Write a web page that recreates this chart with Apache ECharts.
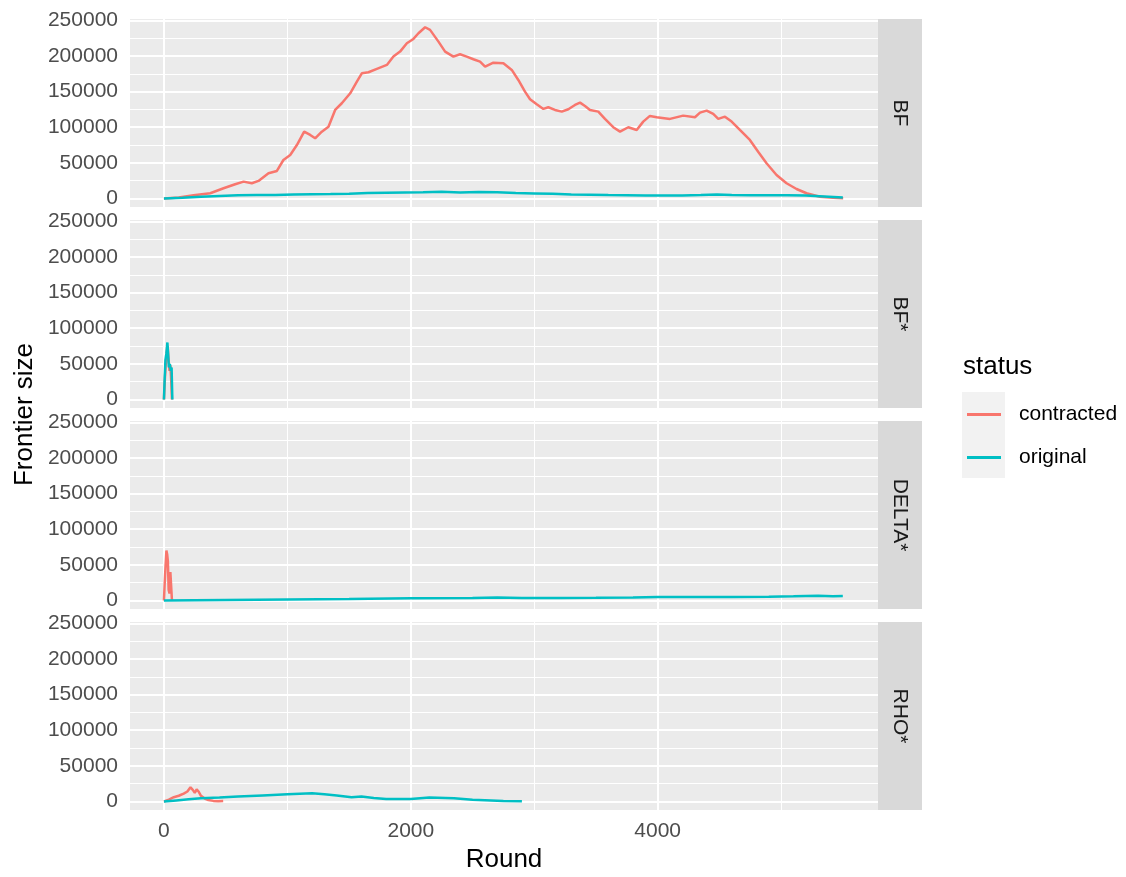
<!DOCTYPE html>
<html><head><meta charset="utf-8">
<script src="https://cdn.jsdelivr.net/npm/echarts@6/dist/echarts.min.js"></script>
<style>html,body{margin:0;padding:0;background:#fff}#c{width:1126px;height:877px}</style>
</head><body><div id="c"></div>
<script>
// ---------------- data ----------------
const facetLabels = ['BF', 'BF*', 'DELTA*', 'RHO*'];
const statusNames = ['contracted', 'original'];
const xTicks = [0, 2000, 4000];
const xMinorTicks = [1000, 3000, 5000];
const yTicks = [0, 50000, 100000, 150000, 200000, 250000];
const yMinorTicks = [25000, 75000, 125000, 175000, 225000];

const bfContracted = [[0,0],[120,1500],[240,4500],[375,7300],[483,14300],[577,20000],[645,23600],[712,21300],[766,24600],[847,35400],[915,38600],[968,54000],[1023,61000],[1077,75000],[1136,93800],[1185,89200],[1225,84500],[1279,93800],[1333,100800],[1387,124300],[1441,133700],[1509,147700],[1563,164000],[1603,175800],[1657,177200],[1725,181900],[1806,187500],[1859,199200],[1913,206200],[1968,218000],[2021,224000],[2062,232000],[2116,240400],[2156,236700],[2224,220200],[2278,206200],[2345,199200],[2399,202500],[2453,199200],[2507,195500],[2561,192100],[2602,185100],[2669,190700],[2750,189900],[2818,180500],[2871,166400],[2925,150000],[2966,139300],[3020,132300],[3074,125700],[3114,128100],[3168,124300],[3223,121900],[3276,125300],[3330,131300],[3371,134600],[3411,129900],[3452,124300],[3519,121900],[3573,111700],[3640,100000],[3695,93800],[3762,100000],[3830,96200],[3883,107900],[3937,115900],[3992,114000],[4100,111700],[4207,116300],[4302,114000],[4343,120500],[4397,123300],[4450,118700],[4491,111700],[4545,114900],[4599,107900],[4666,96200],[4747,82200],[4814,65700],[4882,49400],[4963,33000],[5044,21300],[5125,13300],[5206,7300],[5314,2500],[5422,1100],[5503,300]];
const bfOriginal = [[0,0],[150,1000],[300,2500],[450,3500],[600,4500],[750,5000],[900,5000],[1050,5500],[1200,6000],[1350,6200],[1500,6500],[1650,7500],[1800,8000],[1950,8500],[2100,8700],[2250,9300],[2400,8500],[2550,9200],[2700,8800],[2850,7500],[3000,7000],[3150,6500],[3300,5500],[3450,5200],[3600,4800],[3750,4600],[3900,4200],[4050,4000],[4200,4300],[4350,4800],[4480,5500],[4600,4700],[4750,4600],[4900,4500],[5050,4400],[5200,4000],[5350,2800],[5500,1200]];

const bfsContracted = [[0,0],[8,30000],[15,50000],[22,65000],[30,75000],[38,55000],[45,40000],[52,48000],[58,30000],[65,0]];
const bfsOriginal = [[0,0],[6,30000],[12,55000],[20,65000],[28,80000],[34,78000],[40,45000],[48,50000],[55,40000],[62,45000],[68,0]];

const deltaContracted = [[0,0],[5,20000],[12,45000],[20,70000],[26,65000],[32,55000],[38,15000],[45,10000],[52,40000],[58,38000],[65,0]];
const deltaOriginal = [[0,0],[500,700],[1000,1500],[1500,2200],[2000,3000],[2500,3500],[2700,4200],[2900,3600],[3200,3500],[3500,3800],[3800,4300],[4000,4800],[4300,4900],[4600,4700],[4900,5300],[5100,5800],[5300,6500],[5420,5800],[5500,6300]];

const rhoContracted = [[0,0],[40,2500],[80,6000],[120,8000],[160,11000],[190,14000],[215,20000],[235,16000],[250,12000],[265,17000],[280,14000],[300,8000],[330,4000],[360,2000],[400,800],[440,300],[480,600]];
const rhoOriginal = [[0,0],[100,1500],[200,3000],[300,4500],[450,5500],[600,6800],[800,8500],[1000,10000],[1200,11500],[1300,10000],[1400,8500],[1520,6000],[1600,7000],[1700,5000],[1800,3500],[2000,3500],[2150,5500],[2350,4500],[2500,2500],[2750,800],[2900,300]];

const panelData = [
  [bfContracted, bfOriginal],
  [bfsContracted, bfsOriginal],
  [deltaContracted, deltaOriginal],
  [rhoContracted, rhoOriginal]
];
const statusColors = ['#F8766D', '#00BFC4'];

// ---------------- layout ----------------
const FONT = "'Liberation Sans', Arial, Helvetica, sans-serif";
const panelLeft = 130, panelWidth = 748, panelHeight = 188;
const panelTops = [19, 220, 421, 622];
const xMin = -275, xMax = 5785, yMin = -12000, yMax = 252000;

const grids = [], xAxes = [], yAxes = [], series = [], graphics = [];

panelTops.forEach((top, i) => {
  const isBottom = i === panelTops.length - 1;
  grids.push({
    left: panelLeft, top: top, width: panelWidth, height: panelHeight,
    show: true, backgroundColor: '#EBEBEB', borderWidth: 0,
    containLabel: false, outerBoundsMode: 'none'
  });
  xAxes.push({
    type: 'value', gridIndex: i, min: xMin, max: xMax,
    axisLine: { show: false },
    splitLine: { show: false },
    axisTick: { show: isBottom, customValues: xTicks, length: 6, lineStyle: { color: '#333333', width: 2 } },
    axisLabel: { show: isBottom, customValues: xTicks, formatter: v => String(v), color: '#4D4D4D', fontSize: 21, fontFamily: FONT, margin: 11 }
  });
  yAxes.push({
    type: 'value', gridIndex: i, min: yMin, max: yMax,
    axisLine: { show: false },
    splitLine: { show: false },
    axisTick: { show: true, customValues: yTicks, length: 6, lineStyle: { color: '#333333', width: 2 } },
    axisLabel: { customValues: yTicks, formatter: v => String(v), color: '#4D4D4D', fontSize: 21, fontFamily: FONT, margin: 12 }
  });

  const gridLines = [];
  xMinorTicks.forEach(v => gridLines.push({ xAxis: v, lineStyle: { width: 1.1 } }));
  yMinorTicks.forEach(v => gridLines.push({ yAxis: v, lineStyle: { width: 1.1 } }));
  xTicks.forEach(v => gridLines.push({ xAxis: v, lineStyle: { width: 2.1 } }));
  yTicks.forEach(v => gridLines.push({ yAxis: v, lineStyle: { width: 2.1 } }));

  statusNames.forEach((name, k) => {
    const s = {
      type: 'line', name: name, xAxisIndex: i, yAxisIndex: i,
      data: panelData[i][k], symbol: 'none', showSymbol: false,
      lineStyle: { color: statusColors[k], width: 2.5 },
      itemStyle: { color: statusColors[k] },
      z: 3 + k, silent: true, animation: false,
      emphasis: { disabled: true }
    };
    if (k === 0) {
      s.markLine = {
        silent: true, symbol: ['none', 'none'], z: 1, animation: false,
        label: { show: false }, emphasis: { disabled: true },
        lineStyle: { color: '#FFFFFF', type: 'solid' },
        data: gridLines
      };
    }
    series.push(s);
  });

  // strip
  graphics.push({
    type: 'rect', shape: { x: panelLeft + panelWidth, y: top, width: 44, height: panelHeight },
    style: { fill: '#D9D9D9' }, silent: true
  });
  graphics.push({
    type: 'text', x: panelLeft + panelWidth + 22, y: top + panelHeight / 2, rotation: -Math.PI / 2,
    style: { text: facetLabels[i], fill: '#1A1A1A', font: '21px ' + FONT, textAlign: 'center', textVerticalAlign: 'middle' },
    silent: true
  });
});

// axis titles
graphics.push({
  type: 'text', x: 504, y: 860,
  style: { text: 'Round', fill: '#000000', font: '26px ' + FONT, textAlign: 'center', textVerticalAlign: 'middle' }, silent: true
});
graphics.push({
  type: 'text', x: 25, y: 414.5, rotation: Math.PI / 2,
  style: { text: 'Frontier size', fill: '#000000', font: '26px ' + FONT, textAlign: 'center', textVerticalAlign: 'middle' }, silent: true
});
// legend title and key background
graphics.push({
  type: 'text', x: 963, y: 367,
  style: { text: 'status', fill: '#000000', font: '26px ' + FONT, textAlign: 'left', textVerticalAlign: 'middle' }, silent: true
});
graphics.push({
  type: 'rect', shape: { x: 962, y: 392, width: 43, height: 86 },
  style: { fill: '#F2F2F2' }, silent: true, z: -1
});

const option = {
  animation: false,
  backgroundColor: '#FFFFFF',
  grid: grids,
  xAxis: xAxes,
  yAxis: yAxes,
  series: series,
  legend: {
    data: statusNames, orient: 'vertical', left: 967, top: 404, padding: 0,
    icon: 'rect', itemWidth: 34, itemHeight: 3, itemGap: 22,
    selectedMode: false,
    textStyle: { color: '#000000', fontSize: 21, fontFamily: FONT, padding: [0, 0, 0, 13] }
  },
  graphic: { elements: graphics }
};

const chart = echarts.init(document.getElementById('c'), null, { renderer: 'canvas' });
chart.setOption(option);
</script>
</body></html>
